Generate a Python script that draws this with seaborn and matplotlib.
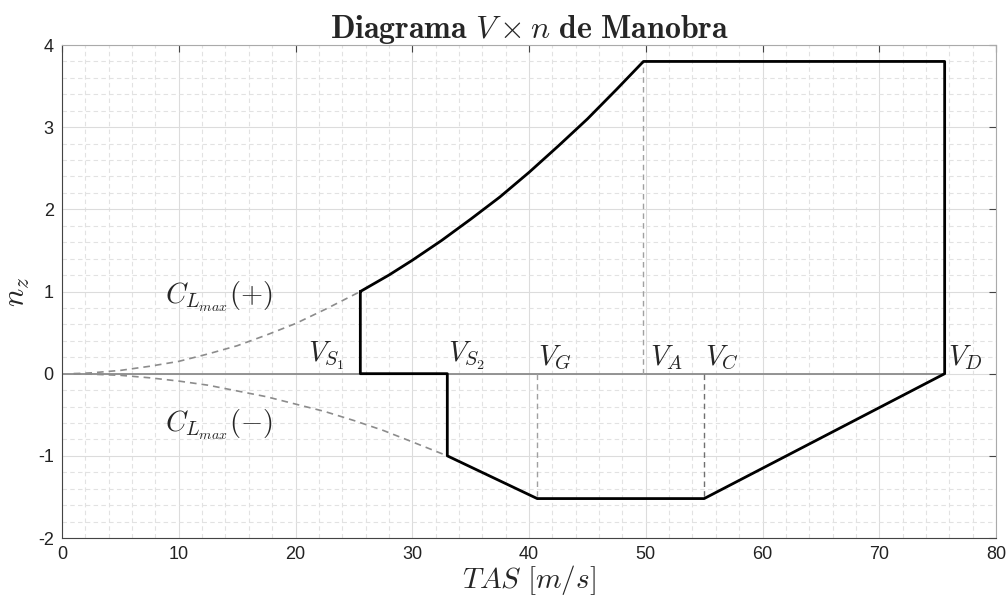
import numpy as np
import pandas as pd
import matplotlib
matplotlib.use('Agg')
import matplotlib.pyplot as plt
from matplotlib.ticker import MultipleLocator
import seaborn as sns

# Velocidades caracteristicas [m/s] e fatores de carga
V_S1 = 25.55
V_S2 = 33.0
V_G = 40.7
V_A = 49.8
V_C = 55.0
V_D = 75.6
n_pos = 3.8
n_neg = -1.52

# curva CLmax(+) (trecho tracejado, antes de V_S1)
v_stall_pos = [1.0, 2.5, 5.0, 7.5, 10.0, 12.5, 15.0, 17.5, 20.0, 22.5, 25.55]
n_stall_pos = [0.0, 0.01, 0.04, 0.09, 0.15, 0.24, 0.34, 0.47, 0.61, 0.78, 1.0]

# curva CLmax(+) de V_S1 ate V_A (trecho solido)
v_curve_pos = [25.55, 28.0, 30.0, 32.5, 35.0, 37.5, 40.0, 42.5, 45.0, 47.5, 49.8]
n_curve_pos = [1.0, 1.20, 1.38, 1.62, 1.88, 2.15, 2.45, 2.77, 3.10, 3.46, 3.80]

# curva CLmax(-) (tracejada)
v_stall_neg = [1.0, 2.5, 5.0, 7.5, 10.0, 12.5, 15.0, 17.5, 20.0, 22.5, 25.0, 27.5, 30.0, 33.0]
n_stall_neg = [0.0, -0.006, -0.02, -0.05, -0.09, -0.14, -0.21, -0.28, -0.37, -0.46, -0.57, -0.69, -0.83, -1.0]

# contorno do envelope (depois da curva positiva)
v_env = [V_A, V_D, V_D, V_C, V_G, V_S2, V_S2, V_S1, V_S1]
n_env = [n_pos, n_pos, 0.0, n_neg, n_neg, -1.0, 0.0, 0.0, 1.0]

sns.set_style('whitegrid')
plt.rcParams['font.family'] = ['Liberation Sans', 'DejaVu Sans']
plt.rcParams['mathtext.fontset'] = 'cm'
plt.rcParams['axes.unicode_minus'] = False

fig = plt.figure(figsize=(10.07, 6.01), dpi=100)
ax = fig.add_axes([0.0616, 0.1048, 0.9275, 0.8203])

env = pd.DataFrame({'V': v_curve_pos + v_env, 'n': n_curve_pos + n_env})
dash_pos = pd.DataFrame({'V': v_stall_pos, 'n': n_stall_pos})
dash_neg = pd.DataFrame({'V': v_stall_neg, 'n': n_stall_neg})

# linha n = 0
sns.lineplot(x=[0, V_D], y=[0, 0], color='#8c8c8c', lw=1.3, ax=ax)
# curvas de estol
sns.lineplot(data=dash_pos, x='V', y='n', sort=False, estimator=None,
             color='#8c8c8c', lw=1.2, ls=(0, (4, 3)), ax=ax)
sns.lineplot(data=dash_neg, x='V', y='n', sort=False, estimator=None,
             color='#8c8c8c', lw=1.2, ls=(0, (4, 3)), ax=ax)
# verticais tracejadas
ax.plot([V_A, V_A], [0, n_pos], color='#a0a0a0', lw=1.0, ls=(0, (4, 3)))
ax.plot([V_G, V_G], [0, n_neg], color='#a0a0a0', lw=1.0, ls=(0, (4, 3)))
ax.plot([V_C, V_C], [0, n_neg], color='#707070', lw=1.0, ls=(0, (4, 3)))
# envelope
sns.lineplot(data=env, x='V', y='n', sort=False, estimator=None,
             color='black', lw=2.0, ax=ax)

lbl = dict(fontsize=20.5)
ax.text(8.8, 0.93, r'$C_{L_{max}}(+)$', va='center', ha='left', **lbl)
ax.text(8.8, -0.62, r'$C_{L_{max}}(-)$', va='center', ha='left', **lbl)
ax.text(24.2, 0.02, r'$V_{S_1}$', va='bottom', ha='right', **lbl)
ax.text(V_S2 + 0.1, 0.02, r'$V_{S_2}$', va='bottom', ha='left', **lbl)
ax.text(V_G + 0.1, 0.02, r'$V_G$', va='bottom', ha='left', **lbl)
ax.text(V_A + 0.6, 0.02, r'$V_A$', va='bottom', ha='left', **lbl)
ax.text(V_C + 0.1, 0.02, r'$V_C$', va='bottom', ha='left', **lbl)
ax.text(V_D + 0.3, 0.02, r'$V_D$', va='bottom', ha='left', **lbl)

ax.set_xlim(0, 80)
ax.set_ylim(-2, 4)
ax.xaxis.set_major_locator(MultipleLocator(10))
ax.xaxis.set_minor_locator(MultipleLocator(2))
ax.yaxis.set_major_locator(MultipleLocator(1))
ax.yaxis.set_minor_locator(MultipleLocator(0.2))

ax.grid(which='major', color='#dcdcdc', lw=0.8, ls='-')
ax.grid(which='minor', color='#e2e2e2', lw=0.8, ls=(0, (4, 3)))
ax.set_axisbelow(True)

ax.tick_params(which='major', direction='in', length=5, width=0.8, color='#444444',
               top=True, right=True, labelsize=13, pad=6, labelcolor='#222222')
ax.tick_params(which='minor', length=0)
for s in ['left', 'bottom']:
    ax.spines[s].set_color('#444444')
for s in ['top', 'right']:
    ax.spines[s].set_color('#aaaaaa')
for s in ax.spines.values():
    s.set_linewidth(0.8)
    s.set_visible(True)

ax.set_xlabel(r'$TAS\ [m/s]$', fontsize=21, labelpad=0)
ax.set_ylabel(r'$n_z$', fontsize=22, labelpad=4)
ax.set_title(r'$\mathbf{Diagrama}\ V \times n\ \mathbf{de\ Manobra}$', fontsize=23, pad=5)

fig.savefig('out.png', dpi=100)
